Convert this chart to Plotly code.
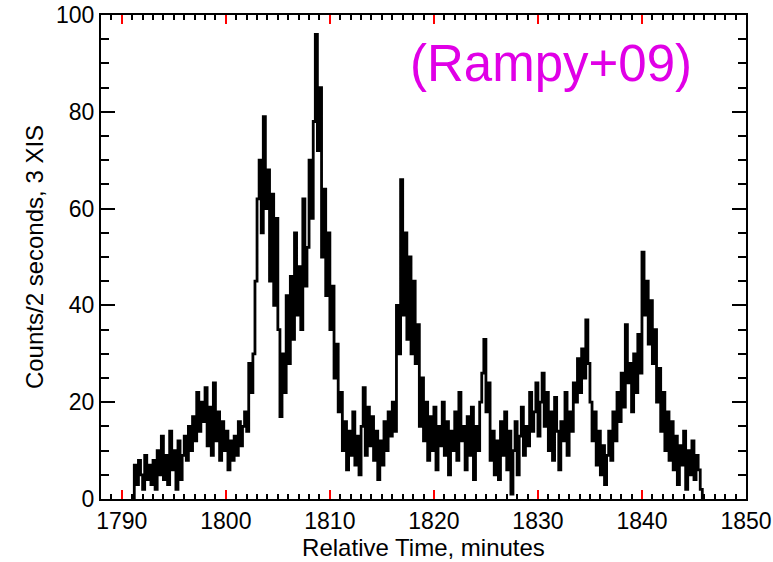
import plotly.graph_objects as go

# Light curve: counts per 2 s (3 XIS), sampled every 0.2 min starting at 1791.0
t_start = 1791.0
bin_min = 0.2
counts = [
    0, 7, 3, 8, 5,        # 1791
    2, 9, 4, 7, 3,        # 1792
    8, 2, 10, 5, 13,      # 1793
    4, 9, 3, 14, 6,       # 1794
    10, 2, 12, 4, 9,      # 1795
    13, 8, 15, 10, 17,    # 1796
    12, 22, 14, 20, 16,   # 1797
    23, 11, 19, 9, 24,    # 1798
    12, 18, 8, 16, 10,    # 1799
    14, 6, 12, 8, 13,     # 1800
    9, 16, 11, 15, 18,    # 1801
    14, 28, 22, 30, 45,   # 1802
    62, 70, 55, 79, 60,   # 1803
    68, 45, 63, 40, 58,   # 1804
    35, 17, 30, 22, 42,   # 1805
    28, 46, 33, 55, 38,   # 1806
    48, 35, 62, 44, 52,   # 1807
    70, 58, 78, 96, 72,   # 1808
    85, 50, 64, 42, 55,   # 1809
    35, 44, 25, 32, 18,   # 1810
    22, 10, 16, 6, 14,    # 1811
    9, 18, 7, 13, 5,      # 1812
    15, 23, 9, 19, 11,    # 1813
    17, 8, 14, 4, 12,     # 1814
    7, 16, 10, 18, 13,    # 1815
    20, 14, 40, 30, 66,   # 1816
    38, 55, 33, 50, 30,   # 1817
    45, 28, 36, 15, 25,   # 1818
    12, 20, 8, 17, 10,    # 1819
    19, 6, 15, 11, 20,    # 1820
    9, 16, 5, 14, 10,     # 1821
    18, 8, 22, 12, 15,    # 1822
    6, 17, 9, 19, 4,      # 1823
    15, 10, 20, 26, 33,   # 1824
    18, 24, 8, 14, 5,     # 1825
    12, 4, 16, 9, 18,     # 1826
    6, 14, 1, 10, 16,     # 1827
    5, 13, 19, 9, 15,     # 1828
    11, 22, 14, 18, 24,   # 1829
    13, 20, 26, 15, 22,   # 1830
    10, 18, 8, 21, 14,    # 1831
    6, 16, 12, 22, 9,     # 1832
    18, 14, 24, 20, 29,   # 1833
    22, 31, 25, 37, 28,   # 1834
    20, 12, 18, 7, 14,    # 1835
    5, 11, 3, 9, 14,      # 1836
    8, 18, 12, 22, 16,    # 1837
    26, 19, 36, 24, 28,   # 1838
    18, 30, 22, 34, 26,   # 1839
    51, 38, 45, 32, 41,   # 1840
    28, 35, 20, 27, 14,   # 1841
    22, 10, 18, 8, 16,    # 1842
    6, 13, 3, 11, 7,      # 1843
    14, 2, 10, 5, 12,     # 1844
    4, 9, 6, 2, 0,        # 1845
]
times = [round(t_start + bin_min * i, 3) for i in range(len(counts))]

x_range = [1788, 1850]
y_range = [0, 100]
x_title = "Relative Time, minutes"
y_title = "Counts/2 seconds, 3 XIS"
note = "(Rampy+09)"

fig = go.Figure()
fig.add_trace(go.Scatter(
    x=times, y=counts, mode="lines", line_shape="hv",
    line=dict(color="black", width=2.8), showlegend=False, hoverinfo="skip"))
# empty trace that only carries the overlaid tick-mark axes
fig.add_trace(go.Scatter(x=[], y=[], xaxis="x2", yaxis="y2", mode="lines",
                         showlegend=False, hoverinfo="skip"))

fig.add_annotation(x=1831.3, y=90, xref="x", yref="y", text=note, showarrow=False,
                   font=dict(family="Liberation Sans", size=51, color="#E000E6"),
                   xanchor="center", yanchor="middle")

label_font = dict(family="Liberation Sans", size=23, color="black")
title_font = dict(family="Liberation Sans", size=24, color="black")

fig.update_layout(
    width=773, height=562, margin=dict(l=101, r=27, t=15, b=63),
    plot_bgcolor="white", paper_bgcolor="white",
    xaxis=dict(range=x_range, dtick=10, tick0=1790, automargin=False,
               ticks="inside", ticklen=9, tickwidth=2, tickcolor="black",
               showline=True, linecolor="black", linewidth=2, mirror="ticks",
               showgrid=False, zeroline=False, tickfont=label_font,
               minor=dict(ticks="inside", dtick=1, ticklen=5, tickwidth=1.5, tickcolor="black"),
               title=dict(text=x_title, standoff=2, font=title_font)),
    yaxis=dict(range=y_range, dtick=20, tick0=0, automargin=False,
               ticks="inside", ticklen=14, tickwidth=2, tickcolor="black",
               showline=True, linecolor="black", linewidth=2, mirror="ticks",
               showgrid=False, zeroline=False, tickfont=label_font,
               minor=dict(ticks="inside", dtick=5, ticklen=8, tickwidth=2, tickcolor="black"),
               title=dict(text=y_title, standoff=6, font=title_font)),
    xaxis2=dict(range=x_range, overlaying="x", anchor="y2", side="bottom", automargin=False,
                dtick=10, tick0=1790, showticklabels=False,
                ticks="inside", ticklen=9, tickwidth=2, tickcolor="red",
                showline=True, linecolor="black", linewidth=2, mirror="ticks",
                showgrid=False, zeroline=False,
                minor=dict(ticks="inside", dtick=1, ticklen=5, tickwidth=1.5, tickcolor="black")),
    yaxis2=dict(range=y_range, overlaying="y", anchor="x2", side="left", automargin=False,
                dtick=20, tick0=0, showticklabels=False,
                ticks="inside", ticklen=14, tickwidth=2, tickcolor="black",
                showline=True, linecolor="black", linewidth=2, mirror="ticks",
                showgrid=False, zeroline=False,
                minor=dict(ticks="inside", dtick=5, ticklen=8, tickwidth=2, tickcolor="black")),
)

fig.write_html("out.html")
